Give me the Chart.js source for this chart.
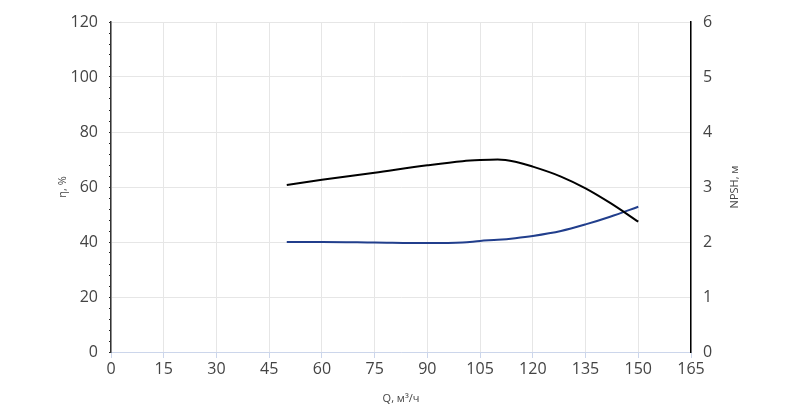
<!DOCTYPE html>
<html>
<head>
<meta charset="utf-8">
<script src="https://cdn.jsdelivr.net/npm/chart.js@4"></script>
<style>
  html, body { margin: 0; padding: 0; background: #fff; }
  #wrap { width: 800px; height: 408px; }
</style>
</head>
<body>
<div id="wrap"><canvas id="chart"></canvas></div>
<script>
// flow, m3/h
const flow = [50, 60, 75, 90, 100, 105, 110, 115, 120, 128, 135, 142, 150];
// efficiency, %
const efficiency = [60.7, 62.6, 65.2, 67.9, 69.4, 69.8, 70.0, 69.2, 67.4, 63.8, 59.5, 54.2, 47.4];
// NPSH, m
const npsh = [2.0, 2.0, 1.99, 1.98, 1.99, 2.02, 2.04, 2.07, 2.11, 2.2, 2.32, 2.46, 2.64];

const xTicks = [0, 15, 30, 45, 60, 75, 90, 105, 120, 135, 150, 165];
const etaTicks = [0, 20, 40, 60, 80, 100, 120];
const npshTicks = [0, 1, 2, 3, 4, 5, 6];

const textColor = '#444';
const gridColor = '#e6e6e6';
const fontFamily = '"Open Sans", sans-serif';

const pts = (ys) => flow.map((q, i) => ({x: q, y: ys[i]}));

// right axis title reads bottom-to-top, like the left one
const rightTitle = {
  id: 'rightTitle',
  afterDraw(chart) {
    const s = chart.scales.y1;
    const ctx = chart.ctx;
    ctx.save();
    ctx.translate(735, (s.top + s.bottom) / 2);
    ctx.rotate(-Math.PI / 2);
    ctx.fillStyle = textColor;
    ctx.font = '11px ' + fontFamily;
    ctx.textAlign = 'center';
    ctx.textBaseline = 'middle';
    ctx.fillText('NPSH, м', 0, 0);
    ctx.restore();
  }
};

new Chart(document.getElementById('chart'), {
  type: 'line',
  data: {
    datasets: [
      {
        label: 'η',
        data: pts(efficiency),
        yAxisID: 'y',
        borderColor: '#000',
        borderWidth: 2,
        pointRadius: 0,
        cubicInterpolationMode: 'monotone',
        fill: false
      },
      {
        label: 'NPSH',
        data: pts(npsh),
        yAxisID: 'y1',
        borderColor: '#213e8c',
        borderWidth: 2,
        pointRadius: 0,
        cubicInterpolationMode: 'monotone',
        fill: false
      }
    ]
  },
  plugins: [rightTitle],
  options: {
    responsive: true,
    maintainAspectRatio: false,
    animation: false,
    layout: { padding: { top: 22, left: 0, right: 0, bottom: 0 } },
    plugins: { legend: { display: false }, tooltip: { enabled: false } },
    scales: {
      x: {
        type: 'linear',
        min: 0,
        max: 165,
        afterBuildTicks: (s) => { s.ticks = xTicks.map(v => ({value: v})); },
        afterFit: (s) => { s.height = 56; },
        grid: { color: gridColor, tickColor: '#ccd6eb', tickLength: 6 },
        border: { color: '#ccd6eb', width: 1 },
        ticks: { color: textColor, font: { family: fontFamily, size: 16 }, padding: 2, maxRotation: 0 },
        title: { display: true, text: 'Q, м³/ч', color: textColor, font: { family: fontFamily, size: 11 }, padding: { top: 0, bottom: 3 } }
      },
      y: {
        position: 'left',
        min: 0,
        max: 120,
        afterBuildTicks: (s) => {
          const t = [];
          for (let v = 0; v <= 120; v += 4) t.push({value: v});
          s.ticks = t;
        },
        afterFit: (s) => { s.width = 111; },
        grid: {
          color: (c) => (etaTicks.includes(c.tick.value) ? gridColor : 'rgba(0,0,0,0)'),
          tickColor: '#222',
          tickLength: 2
        },
        border: { color: '#333', width: 1.5 },
        ticks: {
          autoSkip: false,
          color: textColor,
          font: { family: fontFamily, size: 16 },
          padding: 11,
          callback: (v) => (etaTicks.includes(v) ? String(v) : '')
        },
        title: { display: true, text: 'η, %', color: textColor, font: { family: fontFamily, size: 11 }, padding: { top: 56, bottom: 0 } }
      },
      y1: {
        position: 'right',
        min: 0,
        max: 6,
        afterBuildTicks: (s) => { s.ticks = npshTicks.map(v => ({value: v})); },
        afterFit: (s) => { s.width = 109; },
        grid: { drawOnChartArea: false, drawTicks: false },
        border: { color: '#000', width: 1.5 },
        ticks: { color: textColor, font: { family: fontFamily, size: 16 }, padding: 12 },
        title: { display: false }
      }
    }
  }
});
</script>
</body>
</html>
